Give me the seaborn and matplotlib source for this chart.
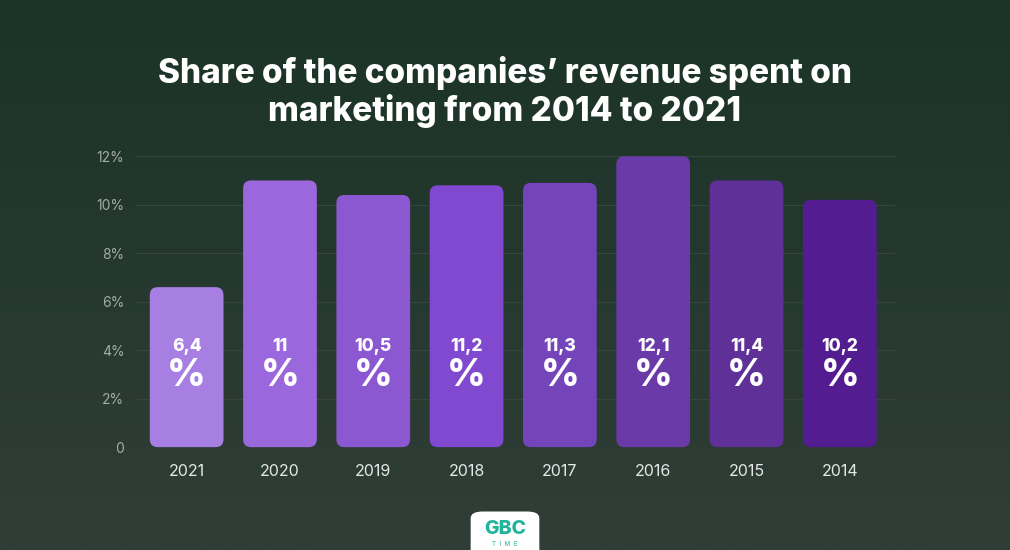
import numpy as np
import pandas as pd
import matplotlib
matplotlib.use("Agg")
import matplotlib.pyplot as plt
import seaborn as sns
from matplotlib.patches import FancyBboxPatch

# ---------------------------------------------------------------------------
# Data
# ---------------------------------------------------------------------------
years = ["2021", "2020", "2019", "2018", "2017", "2016", "2015", "2014"]
bar_heights = [6.6, 11.0, 10.4, 10.8, 10.9, 12.0, 11.0, 10.2]
value_labels = ["6,4", "11", "10,5", "11,2", "11,3", "12,1", "11,4", "10,2"]
bar_colors = ["#a77fe2", "#9b67dc", "#8c58d2", "#8149cf", "#7444bb",
              "#6a3aa8", "#5f3097", "#531d91"]
y_ticks = [0, 2, 4, 6, 8, 10, 12]
y_tick_labels = ["0", "2%", "4%", "6%", "8%", "10%", "12%"]
title = "Share of the companies\u2019 revenue spent on\nmarketing from 2014 to 2021"

df = pd.DataFrame({"year": years, "share": bar_heights})

sns.set_theme(style="white")
plt.rcParams["font.family"] = ["Inter", "DejaVu Sans"]

fig = plt.figure(figsize=(10.1, 5.5), dpi=100)

# --- background gradient ---
bg = fig.add_axes([0, 0, 1, 1], zorder=-10)
grad = np.linspace(0, 1, 256).reshape(-1, 1)
top_c = np.array([0x1b, 0x33, 0x27]) / 255
bot_c = np.array([0x30, 0x3e, 0x37]) / 255
img = top_c + (bot_c - top_c) * grad[..., None]
bg.imshow(img, aspect="auto", extent=[0, 1, 0, 1])
bg.set_axis_off()

ax = fig.add_axes([0.134, 0.187, 0.752, 0.529])
ax.set_facecolor("none")

sns.barplot(data=df, x="year", y="share", hue="year", palette=bar_colors,
            order=years, legend=False, width=0.79, saturation=1, ax=ax)

# replace plain bars with rounded ones
for patch in list(ax.patches):
    x0, y0 = patch.get_x(), patch.get_y()
    w, h = patch.get_width(), patch.get_height()
    rounded = FancyBboxPatch((x0, y0), w, h,
                             boxstyle="round,pad=0,rounding_size=0.085",
                             mutation_aspect=3.85,
                             facecolor=patch.get_facecolor(),
                             edgecolor="none", clip_on=False, zorder=3)
    patch.remove()
    ax.add_patch(rounded)

for i, lab in enumerate(value_labels):
    ax.text(i, 4.15, lab, ha="center", va="center", color="white",
            fontsize=12.5, fontweight="heavy", zorder=5)
    ax.text(i, 2.95, "%", ha="center", va="center", color="white",
            fontsize=27, fontweight="heavy", zorder=5)

ax.set_xlim(-0.55, 7.59)
ax.set_ylim(0, 12)
ax.set_yticks(y_ticks)
ax.set_yticklabels(y_tick_labels)
ax.yaxis.grid(True, color="#34463d", linewidth=0.8)
ax.set_axisbelow(True)
ax.tick_params(axis="y", colors="#a3aca7", labelsize=10, length=0, pad=8)
ax.tick_params(axis="x", colors="#e4e8e6", labelsize=11.5, length=0, pad=12)
for lbl in ax.get_yticklabels():
    lbl.set_horizontalalignment("right")
ax.set_xlabel("")
ax.set_ylabel("")
sns.despine(ax=ax, left=True, bottom=True)

fig.text(0.5, 0.832, title, ha="center", va="center", color="white",
         fontsize=24, fontweight="heavy", linespacing=1.15)

# --- logo ---
logo = FancyBboxPatch((0.466, -0.02), 0.068, 0.09,
                      boxstyle="round,pad=0,rounding_size=0.012",
                      transform=fig.transFigure, facecolor="white",
                      edgecolor="none")
fig.patches.append(logo)
fig.text(0.5, 0.038, "GBC", ha="center", va="center", color="#1fb59a",
         fontsize=14, fontweight="heavy")
fig.text(0.5, 0.01, "T  I  M  E", ha="center", va="center", color="#1fb59a",
         fontsize=4.5)

fig.savefig("out.png", dpi=100)
